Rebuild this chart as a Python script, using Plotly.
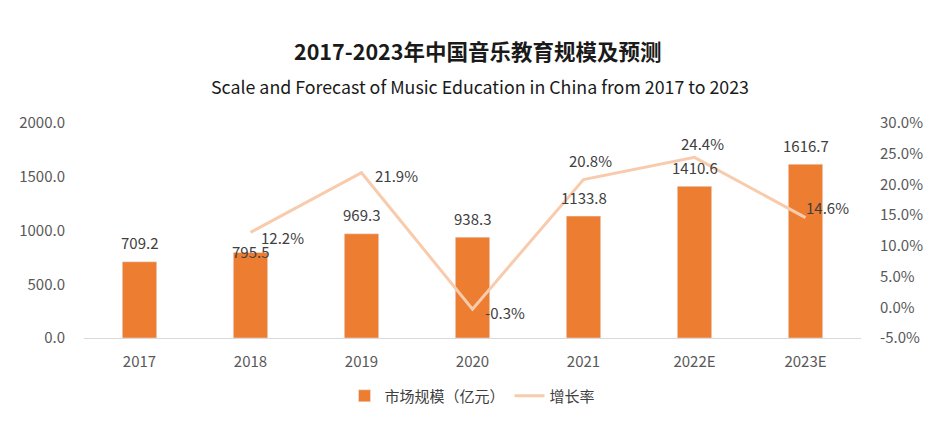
import plotly.graph_objects as go

categories = ["2017", "2018", "2019", "2020", "2021", "2022E", "2023E"]
market_size = [709.2, 795.5, 969.3, 938.3, 1133.8, 1410.6, 1616.7]
growth_years = ["2018", "2019", "2020", "2021", "2022E", "2023E"]
growth_rate = [12.2, 21.9, -0.3, 20.8, 24.4, 14.6]

FONT = "Noto Sans CJK SC, Noto Sans, sans-serif"
BAR = "#ED7D31"
LINE = "#F8CBAD"
TXT = "#404040"
TICK = "#595959"

fig = go.Figure()
fig.add_trace(go.Bar(
    x=categories, y=market_size, name="市场规模（亿元）",
    marker_color=BAR, width=0.31, yaxis="y",
))
fig.add_trace(go.Scatter(
    x=growth_years, y=growth_rate, name="增长率", mode="lines",
    line=dict(color=LINE, width=3), yaxis="y2",
))

# bar value labels (pixel offsets above the bar top)
bar_shift = {"2018": 1}
for c, v in zip(categories, market_size):
    fig.add_annotation(x=categories.index(c), y=v, xref="x", yref="y", text=f"{v:.1f}",
                       showarrow=False, yshift=bar_shift.get(c, 19),
                       font=dict(size=15, color=TXT, family=FONT))

# growth labels offsets (xshift, yshift)
line_shift = {"2018": (32, -5), "2019": (35, -3), "2020": (32, -3),
              "2021": (7, 19), "2022E": (8, 14), "2023E": (22, 10)}
for c, v in zip(growth_years, growth_rate):
    dx, dy = line_shift[c]
    fig.add_annotation(x=categories.index(c), y=v, xref="x", yref="y2", text=f"{v:.1f}%",
                       showarrow=False, xshift=dx, yshift=dy,
                       font=dict(size=15, color=TXT, family=FONT))

fig.add_annotation(x=0.507, y=1.3395, xref="paper", yref="paper",
                   text="<b>2017-2023年中国音乐教育规模及预测</b>", showarrow=False,
                   font=dict(size=21.5, color="#1a1a1a", family=FONT), yanchor="middle")
fig.add_annotation(x=0.51, y=1.172, xref="paper", yref="paper",
                   text="Scale and Forecast of Music Education in China from 2017 to 2023",
                   showarrow=False, font=dict(size=17.8, color="#1a1a1a", family=FONT),
                   yanchor="middle")

fig.update_layout(
    width=952, height=435,
    margin=dict(l=84, r=91, t=123, b=97),
    paper_bgcolor="white", plot_bgcolor="white",
    font=dict(family=FONT, size=15, color=TICK),
    showlegend=True,
    legend=dict(orientation="h", x=0.5, xanchor="center", y=-0.27, yanchor="middle",
                font=dict(size=15, color=TXT), itemwidth=30),
    xaxis=dict(type="category", range=[-0.5, len(categories) - 0.5], autorange=False,
               showgrid=False, showline=True, linecolor="#D9D9D9",
               linewidth=1, ticks="", ticklabelstandoff=10,
               tickfont=dict(size=15, color=TICK)),
    yaxis=dict(range=[0, 2000], tickvals=[0, 500, 1000, 1500, 2000],
               ticktext=["0.0", "500.0", "1000.0", "1500.0", "2000.0"],
               showgrid=False, zeroline=False, showline=False, ticks="",
               ticklabelstandoff=18, tickfont=dict(size=15, color=TICK)),
    yaxis2=dict(range=[-5, 30], overlaying="y", side="right",
                tickvals=[-5, 0, 5, 10, 15, 20, 25, 30],
                ticktext=["-5.0%", "0.0%", "5.0%", "10.0%", "15.0%", "20.0%", "25.0%", "30.0%"],
                showgrid=False, zeroline=False, showline=False, ticks="",
                ticklabelstandoff=18, tickfont=dict(size=15, color=TICK)),
)

fig.write_html("out.html")
